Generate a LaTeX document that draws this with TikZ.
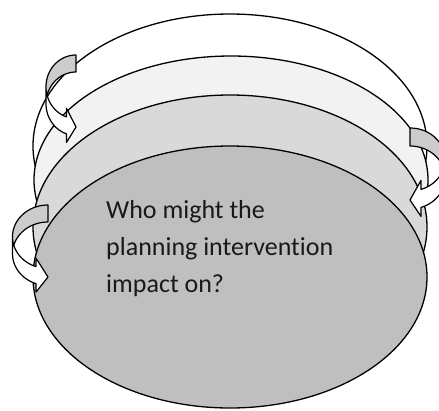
\documentclass[tikz,border=0pt]{standalone}
\usepackage{fontspec}
\setmainfont{Carlito}[Ligatures={NoCommon}]
\definecolor{ringA}{HTML}{FFFFFF}
\definecolor{ringB}{HTML}{F2F2F2}
\definecolor{ringC}{HTML}{D9D9D9}
\definecolor{ringD}{HTML}{BFBFBF}
\definecolor{arrback}{HTML}{CCCCCC}
\tikzset{
  ring/.style={draw=black, line width=1.3pt},
  arrline/.style={draw=black, line width=1.2pt, line join=round},
}
% curved arrow (Word curvedRightArrow): #1 w, #2 h, #3 th, #4 aw, #5 ah
\newcommand\mycurvarr[5]{%
  \pgfmathsetmacro\aaW{#1}%
  \pgfmathsetmacro\aaH{#2}%
  \pgfmathsetmacro\aaT{#3}%
  \pgfmathsetmacro\aaA{#4}%
  \pgfmathsetmacro\aaK{#5}%
  \pgfmathsetmacro\aaR{\aaH/2-(\aaT+\aaA)/4}%
  \pgfmathsetmacro\aaDy{sqrt(\aaW*\aaW-\aaK*\aaK)*\aaR/\aaW}%
  \pgfmathsetmacro\aaXa{\aaW-\aaK}%
  \pgfmathsetmacro\aaYf{\aaR+\aaDy}%
  \pgfmathsetmacro\aaYd{\aaYf-(\aaA-\aaT)/2}%
  \pgfmathsetmacro\aaYg{\aaYf+\aaT}%
  \pgfmathsetmacro\aaYh{\aaYg+(\aaA-\aaT)/2}%
  \pgfmathsetmacro\aaYt{\aaH-\aaA/2}%
  \pgfmathsetmacro\aaPhi{180-acos(\aaK/\aaW)}%
  \pgfmathsetmacro\aaBeta{asin(\aaT/(2*\aaR))}%
  \pgfmathsetmacro\aaYc{\aaR+\aaT}%
  % front piece
  \fill[white] plot[variable=\t,domain=0:1,samples=40]
      ({\aaW+\aaW*cos(180+\t*(\aaPhi-180))},{\aaR+\aaR*sin(180+\t*(\aaPhi-180))})
    -- (\aaXa,\aaYd) -- (\aaW,\aaYt) -- (\aaXa,\aaYh) -- (\aaXa,\aaYg)
    -- plot[variable=\t,domain=0:1,samples=40]
      ({\aaW+\aaW*cos(\aaPhi+\t*(180-\aaPhi))},{\aaYc+\aaR*sin(\aaPhi+\t*(180-\aaPhi))})
    -- cycle;
  % back piece
  \fill[arrback] plot[variable=\t,domain=0:1,samples=40]
      ({\aaW+\aaW*cos(270-\t*(90-\aaBeta))},{\aaYc+\aaR*sin(270-\t*(90-\aaBeta))})
    -- plot[variable=\t,domain=0:1,samples=40]
      ({\aaW+\aaW*cos(180-\aaBeta+\t*(90+\aaBeta))},{\aaR+\aaR*sin(180-\aaBeta+\t*(90+\aaBeta))})
    -- cycle;
  % outline
  \draw[arrline] plot[variable=\t,domain=0:1,samples=40]
      ({\aaW+\aaW*cos(180+\t*(\aaPhi-180))},{\aaR+\aaR*sin(180+\t*(\aaPhi-180))})
    -- (\aaXa,\aaYd) -- (\aaW,\aaYt) -- (\aaXa,\aaYh) -- (\aaXa,\aaYg)
    -- plot[variable=\t,domain=0:1,samples=40]
      ({\aaW+\aaW*cos(\aaPhi+\t*(180-\aaPhi))},{\aaYc+\aaR*sin(\aaPhi+\t*(180-\aaPhi))})
    -- (0,\aaR)
    -- plot[variable=\t,domain=0:1,samples=40]
      ({\aaW+\aaW*cos(180+\t*90)},{\aaR+\aaR*sin(180+\t*90)})
    -- (\aaW,\aaT)
    -- plot[variable=\t,domain=0:1,samples=40]
      ({\aaW+\aaW*cos(270-\t*(90-\aaBeta))},{\aaYc+\aaR*sin(270-\t*(90-\aaBeta))});
}
\begin{document}
\begin{tikzpicture}[x=1pt,y=-1pt]
\useasboundingbox (0,0) rectangle (439,410);
\clip (0,0) rectangle (439,410);
\fill[white] (0,0) rectangle (439,410);
% rings, back to front
\path[ring, fill=ringA] (230,146) ellipse [x radius=197pt, y radius=132pt];
\path[ring, fill=ringB] (231,180) ellipse [x radius=197pt, y radius=124pt];
\path[ring, fill=ringC] (230,227) ellipse [x radius=197pt, y radius=132pt];
\path[ring, fill=ringD] (230,277) ellipse [x radius=197pt, y radius=131pt];
% curved arrows
\begin{scope}[shift={(46,55)}]
  \mycurvarr{30}{89}{17}{34}{9.5}
\end{scope}
\begin{scope}[shift={(445,128)}, xscale=-1]
  \mycurvarr{35}{90}{18}{36}{11}
\end{scope}
\begin{scope}[shift={(12.5,205)}]
  \mycurvarr{35.5}{89}{17}{34}{12}
\end{scope}
% text
\node[anchor=base west, align=left, inner sep=0pt,
      font=\fontsize{26}{37}\selectfont, text=black!90] (q) at (106,292)
  {Who might the\\planning intervention\\impact on?};
\end{tikzpicture}
\end{document}
